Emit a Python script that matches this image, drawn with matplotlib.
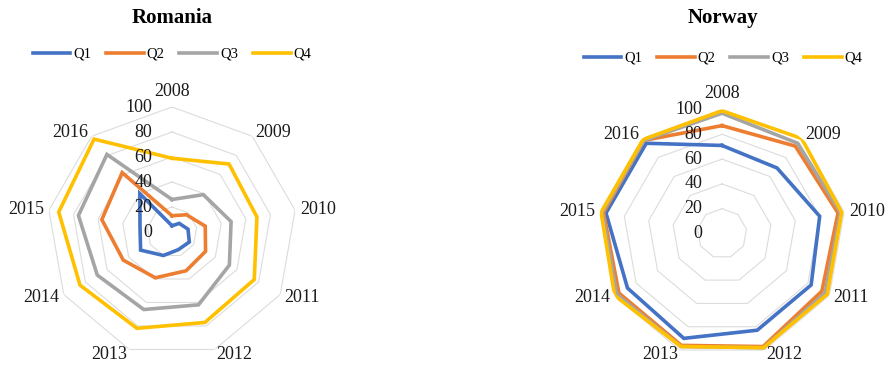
# Quarterly radar charts, Romania vs Norway, 2008-2016
import numpy as np
import matplotlib
matplotlib.use('Agg')
import matplotlib.pyplot as plt

plt.rcParams['font.family'] = ['Liberation Serif', 'DejaVu Serif']

years = ['2008', '2009', '2010', '2011', '2012', '2013', '2014', '2015', '2016']
quarters = ['Q1', 'Q2', 'Q3', 'Q4']
ticks = [0, 20, 40, 60, 80, 100]

# Romania
ro_q1 = [5, 9, 13, 16, 15, 20, 29, 26, 40]
ro_q2 = [13, 18, 27, 31, 33, 39, 45, 57, 62]
ro_q3 = [26, 39, 48, 53, 62, 66, 69, 76, 81]
ro_q4 = [59, 71, 69, 76, 77, 82, 85, 92, 97]

# Norway
no_q1 = [71, 69, 80, 83, 83, 90, 88, 95, 95]
no_q2 = [87, 92, 95, 93, 97, 96, 96, 97, 98]
no_q3 = [97, 95, 97, 96, 98, 97, 98, 98, 98]
no_q4 = [99, 100, 98, 98, 98, 97, 100, 99, 99]

colors = ['#4472C4', '#ED7D31', '#A5A5A5', '#FFC000']
grid_col = '#DCDCDC'


def radar(ax, series, title, title_x, legend_y):
    n = len(years)
    ang = np.linspace(0, 2 * np.pi, n, endpoint=False)
    ang_c = np.append(ang, ang[0])

    ax.set_theta_offset(np.pi / 2)
    ax.set_theta_direction(-1)
    ax.set_ylim(0, 100)
    ax.grid(False)
    ax.spines['polar'].set_visible(False)
    ax.set_xticks([])
    ax.set_yticks([])
    ax.patch.set_alpha(0)

    # polygon rings only, no spokes
    for t in ticks[1:]:
        ax.plot(ang_c, [t] * (n + 1), color=grid_col, lw=0.8, zorder=1)

    lines = []
    for vals, c, q in zip(series, colors, quarters):
        v = np.append(vals, vals[0])
        ln, = ax.plot(ang_c, v, color=c, lw=2.6, label=q, zorder=3,
                      solid_joinstyle='miter')
        lines.append(ln)

    # radial value labels left of the 2008 spoke
    for t in ticks:
        ax.annotate(str(t), xy=(0, t), xytext=(-14, 0),
                    textcoords='offset points', ha='right', va='center',
                    fontsize=13, color='#1a1a1a', zorder=4)

    # category labels
    for a, y in zip(ang, years):
        s = np.sin(a)
        if s > 0.1:
            ha = 'left'
        elif s < -0.1:
            ha = 'right'
        else:
            ha = 'center'
        if y == '2008':
            ax.text(a, 106, y, ha=ha, va='bottom', fontsize=13,
                    color='#1a1a1a')
        else:
            ax.text(a, 104, y, ha=ha, va='center', fontsize=13,
                    color='#1a1a1a')

    fig.text(title_x, 1 - 18 / 367, title, ha='center', va='center',
             fontsize=15, fontweight='bold')
    fig.legend(handles=lines, loc='center', ncol=4, frameon=False,
               bbox_to_anchor=(title_x, legend_y), fontsize=10.5,
               handlelength=2.6, handletextpad=0.2, columnspacing=1.0)


fig = plt.figure(figsize=(8.87, 3.67), dpi=100)
fig.patch.set_facecolor('white')

ax1 = fig.add_axes([(172 - 125) / 887, (367 - 232 - 125) / 367,
                    250 / 887, 250 / 367], projection='polar')
ax2 = fig.add_axes([(722 - 124) / 887, (367 - 233.5 - 124) / 367,
                    248 / 887, 248 / 367], projection='polar')

radar(ax1, [ro_q1, ro_q2, ro_q3, ro_q4], 'Romania', 172 / 887, 1 - 54 / 367)
radar(ax2, [no_q1, no_q2, no_q3, no_q4], 'Norway', 723 / 887, 1 - 58 / 367)

fig.savefig('out.png', dpi=100, facecolor='white')
